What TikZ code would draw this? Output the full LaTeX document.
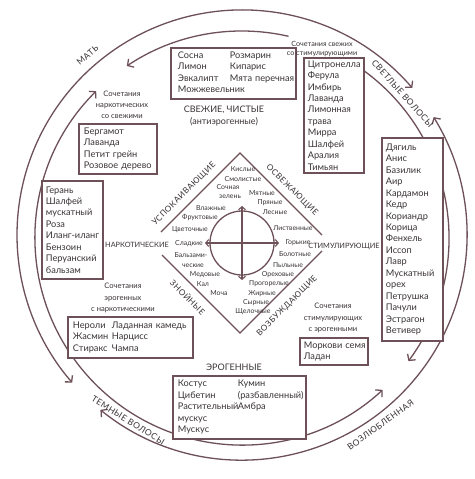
\documentclass[tikz,border=0pt]{standalone}
\usepackage{fontspec}
\setmainfont{Lato}
\newfontfamily\capsfont[LetterSpace=6]{Lato}
\usetikzlibrary{arrows.meta}
\definecolor{lc}{HTML}{6E5059}
\definecolor{tc}{HTML}{3A3436}
\newcommand{\fBox}{\fontsize{9.2}{11.45}\selectfont}
\newcommand{\fSm}{\fontsize{7.6}{11.2}\selectfont}
\newcommand{\fRing}{\capsfont\fontsize{8.6}{10}\selectfont}
\newcommand{\fDia}{\capsfont\fontsize{8.2}{10}\selectfont}
\newcommand{\fVx}{\fontsize{7.3}{9}\selectfont}
\newcommand{\fIn}{\fontsize{6.9}{8}\selectfont}
\newcommand{\fHead}{\fontsize{9}{12}\selectfont}
\begin{document}
\begin{tikzpicture}[x=1pt,y=1pt,
  >={Straight Barb[length=4.5pt,width=10pt]},
  ringarc/.style={draw=lc, line width=1.3pt},
  box/.style={draw=lc, line width=1.8pt, fill=white, anchor=north west, align=left, inner ysep=0pt, text=tc, font=\fBox},
  lbl/.style={text=tc, align=center, font=\fSm, inner sep=1pt},
  ringlbl/.style={text=tc, font=\fRing, inner sep=0pt},
  dialbl/.style={text=tc, font=\fDia, inner sep=0pt},
  vxlbl/.style={text=tc, font=\fVx, inner sep=0pt},
  word/.style={text=tc, font=\fIn, inner sep=0pt},
  dline/.style={draw=lc, line width=1.3pt},
  axis/.style={draw=lc, line width=1.1pt, {Straight Barb[length=3pt,width=7pt]}-{Straight Barb[length=3pt,width=7pt]}},
]
\fill[white] (0,0) rectangle (474,-479);
\useasboundingbox (0,0) rectangle (474,-479);

\coordinate (Co) at (242,-235);
\coordinate (Ci) at (242,-238);

% outer ring
\draw[ringarc,<->] ([shift={(40.8:225)}]Co) arc[start angle=40.8,end angle=221,radius=225];
\draw[ringarc,<->] ([shift={(231:225)}]Co) arc[start angle=231,end angle=391.6,radius=225];
% inner ring
\draw[ringarc,<-] ([shift={(-36.5:207)}]Ci) arc[start angle=-36.5,end angle=60,radius=207];
\draw[ringarc,->] ([shift={(77:207)}]Ci) arc[start angle=77,end angle=123.8,radius=207];
\draw[ringarc,<->] ([shift={(134.8:207)}]Ci) arc[start angle=134.8,end angle=312.8,radius=207];

% ring labels
\node[ringlbl, rotate=40.7] (mat) at ([shift={(130.7:237)}]Co) {МАТЬ};
\node[ringlbl, rotate=-48] (svet) at ([shift={(42:216)}]Ci) {СВЕТЛЫЕ ВОЛОСЫ};
\node[ringlbl, rotate=-32] (tem) at ([shift={(238:215)}]Ci) {ТЕМНЫЕ ВОЛОСЫ};
\node[ringlbl, rotate=36] (voz) at ([shift={(-53.9:235)}]Co) {ВОЗЛЮБЛЕННАЯ};

% boxes
\node[box, inner xsep=7pt, text width=111pt, minimum height=51pt] (sosna) at (170,-47)
 {\begin{tabular}{@{}p{52pt}@{}l@{}}Сосна&Розмарин\\Лимон&Кипарис\\Эвкалипт&Мята перечная\\\multicolumn{2}{@{}l@{}}{Можжевельник}\end{tabular}};
\node[box, inner xsep=4pt, text width=52pt, minimum height=115pt] (citr) at (303,-57)
 {Цитронелла\\Ферула\\Имбирь\\Лаванда\\Лимонная\\трава\\Мирра\\Шалфей\\Аралия\\Тимьян};
\node[box, inner xsep=5pt, text width=68pt, minimum height=50pt] (berg) at (78,-123)
 {Бергамот\\Лаванда\\\mbox{Петит грейн}\\\mbox{Розовое дерево}};
\node[box, inner xsep=4pt, text width=53pt, minimum height=98pt] (geran) at (41,-180)
 {Герань\\Шалфей\\мускатный\\Роза\\\mbox{Иланг-иланг}\\Бензоин\\Перуанский\\бальзам};
\node[box, inner xsep=5pt, text width=115pt, minimum height=41pt] (neroli) at (67,-316)
 {\begin{tabular}{@{}p{39pt}@{}l@{}}Нероли&Ладанная камедь\\Жасмин&Нарцисс\\Стиракс&Чампа\end{tabular}};
\node[box, inner xsep=5pt, text width=123pt, minimum height=63pt] (erog) at (172,-375)
 {\begin{tabular}{@{}p{60pt}@{}l@{}}Костус&Кумин\\Цибетин&(разбавленный)\\Растительный&Амбра\\мускус&\\Мускус&\end{tabular}};
\node[box, inner xsep=4pt, text width=60pt, minimum height=27pt] (mork) at (299,-337)
 {\mbox{Моркови семя}\\Ладан};
\node[box, inner xsep=4pt, text width=53pt, minimum height=203pt] (dyag) at (381,-137)
 {Дягиль\\Анис\\Базилик\\Аир\\Кардамон\\Кедр\\Кориандр\\Корица\\Фенхель\\Иссоп\\Лавр\\Мускатный\\орех\\Петрушка\\Пачули\\Эстрагон\\Ветивер};

% combination labels
\node[lbl, font=\fontsize{7.2}{9.2}\selectfont] (c1) at (322,-49) {Сочетания свежих\\со стимулирующими};
\node[lbl] (c2) at (122,-105) {Сочетания\\наркотических\\со свежими};
\node[lbl] (c3) at (123,-298) {Сочетания\\эрогенных\\с наркотическими};
\node[lbl] (c4) at (333,-318) {Сочетания\\стимулирующих\\с эрогенными};
\node[text=tc, font=\fHead, align=center, inner sep=0pt] (fresh) at (224,-116) {СВЕЖИЕ, ЧИСТЫЕ\\(антиэрогенные)};
\node[text=tc, font=\fHead, inner sep=0pt] (erogl) at (234,-367) {ЭРОГЕННЫЕ};

% diamond
\coordinate (T) at (240,-153);
\coordinate (B) at (240,-333);
\coordinate (Lu) at (161,-232);
\coordinate (Ld) at (162,-255);
\coordinate (Ru) at (322,-235);
\coordinate (Rd) at (322,-251);
\draw[dline] (Lu) -- (T) -- (Ru);
\draw[dline] (Ld) -- (B) -- (Rd);
\coordinate (O) at (242,-243);
\draw[dline] (O) circle[radius=32];
\coordinate (At) at (242,-206);
\coordinate (Ab) at (242,-280);
\coordinate (Al) at (205,-243);
\coordinate (Ar) at (279,-243);
\draw[axis] (At) -- (Ab);
\draw[axis] (Al) -- (Ar);

\node[dialbl, rotate=45] (usp) at (184,-194) {УСПОКАИВАЮЩИЕ};
\node[dialbl, rotate=-45] (osv) at (292,-190) {ОСВЕЖАЮЩИЕ};
\node[dialbl, rotate=-45] (zno) at (188,-297) {ЗНОЙНЫЕ};
\node[dialbl, rotate=45] (vozb) at (287,-306) {ВОЗБУЖДАЮЩИЕ};
\node[vxlbl] (nark) at (137,-245) {НАРКОТИЧЕСКИЕ};
\node[vxlbl] (stim) at (344,-246) {СТИМУЛИРУЮЩИЕ};

% inner words
\node[word] (w1) at (243,-169) {Кислые};
\node[word] (w2) at (243,-179) {Смолистые};
\node[word] (w3) at (228,-187) {Сочная};
\node[word] (w4) at (230,-197) {зелень};
\node[word] (w5) at (262,-193) {Мятные};
\node[word] (w6) at (270,-203) {Пряные};
\node[word] (w7) at (275,-212) {Лесные};
\node[word] (w8) at (293,-228) {Лиственные};
\node[word] (w9) at (298,-243) {Горькие};
\node[word] (w10) at (295,-254) {Болотные};
\node[word] (w11) at (288,-265) {Пыльные};
\node[word] (w12) at (278,-275) {Ореховые};
\node[word] (w13) at (269,-284) {Прогорелые};
\node[word] (w14) at (262,-294) {Жирные};
\node[word] (w15) at (256,-303) {Сырные};
\node[word] (w16) at (253,-312) {Щелочные};
\node[word] (w17) at (211,-208) {Влажные};
\node[word] (w18) at (200,-218) {Фруктовые};
\node[word] (w19) at (190,-230) {Цветочные};
\node[word] (w20) at (189,-244) {Сладкие};
\node[word] (w21) at (191,-255) {Бальзами-};
\node[word] (w22) at (193,-266) {ческие};
\node[word] (w23) at (205,-275) {Медовые};
\node[word] (w24) at (203,-284) {Кал};
\node[word] (w25) at (219,-293) {Моча};
\end{tikzpicture}
\end{document}
